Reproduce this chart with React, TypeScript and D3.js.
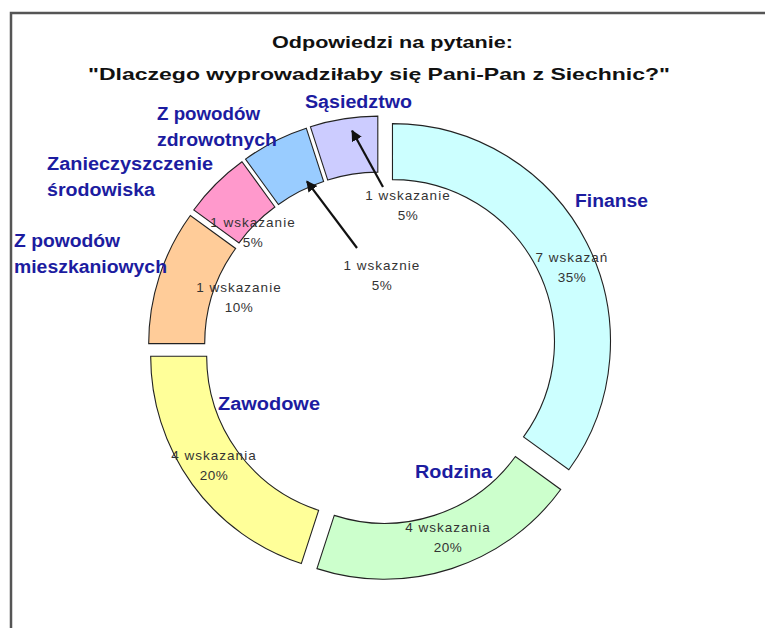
import React from "react";
import * as d3 from "d3";

// ---- data ----
const categories = [
  "Finanse",
  "Rodzina",
  "Zawodowe",
  "Z powodów mieszkaniowych",
  "Zanieczyszczenie środowiska",
  "Z powodów zdrowotnych",
  "Sąsiedztwo",
];
const shares = [35, 20, 20, 10, 5, 5, 5];
const countLabels = ["7 wskazań", "4 wskazania", "4 wskazania", "1 wskazanie", "1 wskazanie", "1 wskaznie", "1 wskazanie"];
const percentLabels = ["35%", "20%", "20%", "10%", "5%", "5%", "5%"];
const categoryLines = [
  ["Finanse"],
  ["Rodzina"],
  ["Zawodowe"],
  ["Z powodów", "mieszkaniowych"],
  ["Zanieczyszczenie", "środowiska"],
  ["Z powodów", "zdrowotnych"],
  ["Sąsiedztwo"],
];
const titleLines = ["Odpowiedzi na pytanie:", "\"Dlaczego wyprowadziłaby się Pani-Pan z Siechnic?\""];

// ---- styles / layout ----
const colors = ["#ccffff", "#ccffcc", "#ffff99", "#ffcc99", "#ff99cc", "#99ccff", "#ccccff"];
const W = 765, H = 628;
const cx = 380, cy = 348, R = 218, r = 162, explode = 14;
const titleLayout = [
  { x: 272, y: 48, w: 241 },
  { x: 88, y: 80, w: 582 },
];
// category label layout: left x, first baseline, widths per line
const catLayout = [
  { x: 575, y: 207, w: [73] },
  { x: 415, y: 478, w: [77] },
  { x: 218, y: 410, w: [102] },
  { x: 14, y: 247, w: [106, 153] },
  { x: 47, y: 170, w: [166, 108] },
  { x: 157, y: 120, w: [103, 120] },
  { x: 305, y: 108, w: [107] },
];
// data label layout: center x, first baseline
const valLayout = [
  { x: 572, y: 262 },
  { x: 448, y: 532 },
  { x: 214, y: 460 },
  { x: 239, y: 292 },
  { x: 253, y: 227 },
  { x: 382, y: 270 },
  { x: 408, y: 200 },
];
// arrows: slice index, tail, tip position as fraction of slice angle and radius
const arrows = [
  { i: 6, tail: [383, 187], frac: 0.6, rad: 205 },
  { i: 5, tail: [357, 248], frac: 0.7, rad: 168 },
];

const labelFont = "'Liberation Sans', Arial, sans-serif";

export default function App() {
  const pie = d3.pie<number>().sort(null).value((d) => d).startAngle(0).endAngle(2 * Math.PI);
  const arcs = pie(shares);
  const arcGen = d3.arc<d3.PieArcDatum<number>>().innerRadius(r).outerRadius(R);

  const offset = (a: d3.PieArcDatum<number>) => {
    const mid = (a.startAngle + a.endAngle) / 2;
    return [explode * Math.sin(mid), -explode * Math.cos(mid)];
  };

  return (
    <svg
      width={W}
      height={H}
      style={{ position: "absolute", left: 0, top: 0, background: "#fff" }}
      fontFamily={labelFont}
    >
      <defs>
        <marker id="ah" viewBox="0 0 10 10" refX="9" refY="5" markerWidth="5" markerHeight="5" orient="auto">
          <path d="M0,0 L10,5 L0,10 z" fill="#111" />
        </marker>
      </defs>
      <rect x={0} y={0} width={W} height={H} fill="#fff" />
      <rect x={11} y={13} width={W + 20} height={H + 20} fill="none" stroke="#555" strokeWidth={2.5} />

      {titleLines.map((t, i) => (
        <text
          key={i}
          x={titleLayout[i].x}
          y={titleLayout[i].y}
          fontSize={17}
          fontWeight="bold"
          fill="#111"
          textLength={titleLayout[i].w}
          lengthAdjust="spacingAndGlyphs"
        >
          {t}
        </text>
      ))}

      <g>
        {arcs.map((a, i) => {
          const [dx, dy] = offset(a);
          return (
            <path
              key={categories[i]}
              d={arcGen(a) || ""}
              transform={`translate(${cx + dx},${cy + dy})`}
              fill={colors[i]}
              stroke="#222"
              strokeWidth={1.1}
            />
          );
        })}
      </g>

      {arrows.map((ar, k) => {
        const a = arcs[ar.i];
        const ang = a.startAngle + (a.endAngle - a.startAngle) * ar.frac;
        const [dx, dy] = offset(a);
        const tx = cx + dx + ar.rad * Math.sin(ang);
        const ty = cy + dy - ar.rad * Math.cos(ang);
        return (
          <line
            key={k}
            x1={ar.tail[0]}
            y1={ar.tail[1]}
            x2={tx}
            y2={ty}
            stroke="#111"
            strokeWidth={2.2}
            markerEnd="url(#ah)"
          />
        );
      })}

      {categoryLines.map((lines, i) =>
        lines.map((ln, j) => (
          <text
            key={`${i}-${j}`}
            x={catLayout[i].x}
            y={catLayout[i].y + j * 26}
            fontSize={18}
            fontWeight="bold"
            fill="#1c1ca0"
            textLength={catLayout[i].w[j]}
            lengthAdjust="spacingAndGlyphs"
          >
            {ln}
          </text>
        ))
      )}

      {arcs.map((a, i) => (
        <g key={`v${i}`} fill="#333" fontSize={13.5} textAnchor="middle">
          <text x={valLayout[i].x} y={valLayout[i].y} letterSpacing={1}>
            {countLabels[i]}
          </text>
          <text x={valLayout[i].x} y={valLayout[i].y + 20} letterSpacing={0.5}>
            {percentLabels[i]}
          </text>
        </g>
      ))}
    </svg>
  );
}
